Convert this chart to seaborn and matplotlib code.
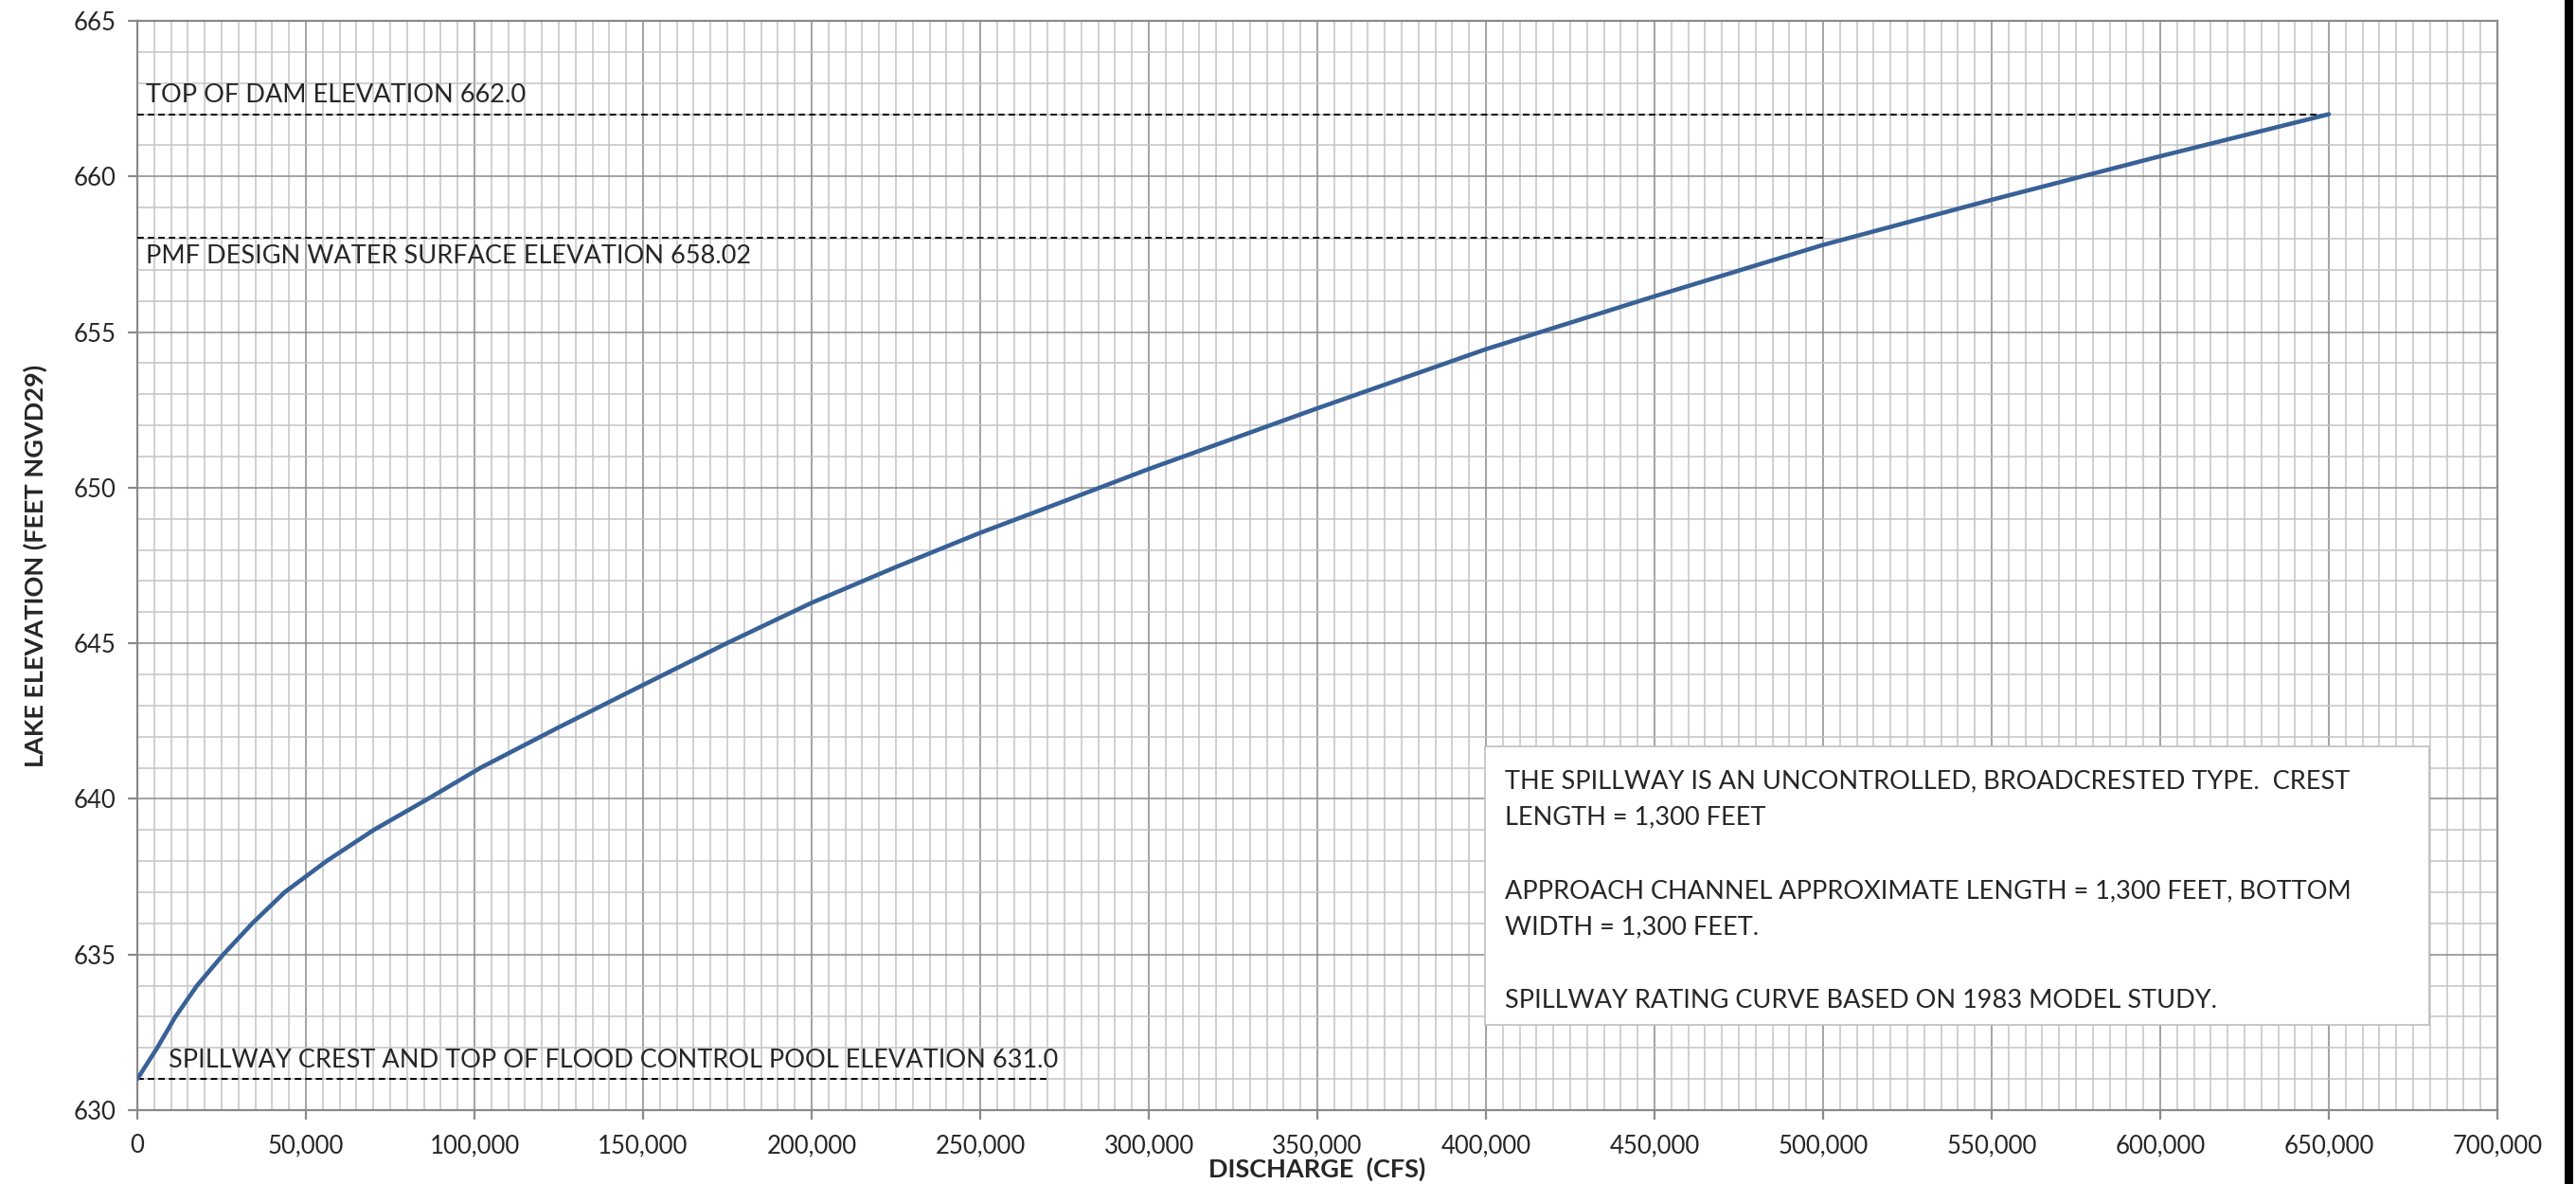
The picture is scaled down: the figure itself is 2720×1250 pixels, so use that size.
import matplotlib
matplotlib.use('Agg')
import matplotlib.pyplot as plt
import matplotlib.ticker as mticker
from matplotlib.patches import Rectangle
import seaborn as sns
import pandas as pd

# spillway rating curve
discharge_cfs = [0, 5900, 11300, 17700, 25500, 34100, 43700, 56100, 70100,
                 86200, 101800, 125000, 150000, 174800, 200000, 225000,
                 250000, 275000, 300000, 350000, 400000, 450000, 500000,
                 550000, 600000, 650000]
lake_elev = [631.0, 632.0, 633.0, 634.0, 635.0, 636.0, 637.0, 638.0, 639.0,
             640.0, 641.0, 642.3, 643.66, 645.0, 646.3, 647.45,
             648.55, 649.57, 650.6, 652.55, 654.45, 656.15, 657.8,
             659.25, 660.65, 662.0]

# reference elevations (label, elevation, dashed line end discharge)
ref_labels = ["TOP OF DAM ELEVATION 662.0",
              "PMF DESIGN WATER SURFACE ELEVATION 658.02",
              "SPILLWAY CREST AND TOP OF FLOOD CONTROL POOL ELEVATION 631.0"]
ref_elev = [662.0, 658.02, 631.0]
ref_line_end = [650000, 500000, 270000]
ref_label_x = [2500, 2500, 9300]
ref_label_above = [True, False, True]

note_text = ("THE SPILLWAY IS AN UNCONTROLLED, BROADCRESTED TYPE.  CREST\n"
             "LENGTH = 1,300 FEET\n\n"
             "APPROACH CHANNEL APPROXIMATE LENGTH = 1,300 FEET, BOTTOM\n"
             "WIDTH = 1,300 FEET.\n\n"
             "SPILLWAY RATING CURVE BASED ON 1983 MODEL STUDY.")

sns.set_style("white")
plt.rcParams['font.family'] = ['Lato', 'DejaVu Sans']
plt.rcParams['font.size'] = 19.5

fig = plt.figure(figsize=(27.2, 12.5), dpi=100)
ax = fig.add_axes([0.0533, 0.0624, 0.9162, 0.92])

df = pd.DataFrame({'discharge': discharge_cfs, 'elevation': lake_elev})
sns.lineplot(data=df, x='discharge', y='elevation', ax=ax, color='#386196',
             linewidth=3.3, sort=True, zorder=5)

ax.set_xlim(0, 700000)
ax.set_ylim(630, 665)
ax.xaxis.set_major_locator(mticker.MultipleLocator(50000))
ax.xaxis.set_minor_locator(mticker.MultipleLocator(5000))
ax.yaxis.set_major_locator(mticker.MultipleLocator(5))
ax.yaxis.set_minor_locator(mticker.MultipleLocator(1))
ax.xaxis.set_major_formatter(mticker.FuncFormatter(lambda v, p: f"{v:,.0f}"))

ax.grid(which='minor', color='#c4c4c4', linewidth=1.1, zorder=0)
ax.grid(which='major', color='#8a8a8a', linewidth=1.1, zorder=1)
ax.set_axisbelow(True)
for side, sp in ax.spines.items():
    sp.set_color('#8a8a8a')
    sp.set_linewidth(1.6)

ax.tick_params(which='major', direction='out', length=7, width=1.6,
               color='#8a8a8a', labelsize=18.5, bottom=True, left=True)
ax.tick_params(axis='y', pad=9)
ax.tick_params(axis='x', pad=11)
ax.tick_params(which='minor', length=0)

# reference elevation lines and their labels
for label, elev, x_end, lx, above in zip(ref_labels, ref_elev, ref_line_end,
                                         ref_label_x, ref_label_above):
    ax.plot([0, x_end], [elev, elev], color='black', linewidth=1.4,
            linestyle=(0, (3.5, 2.2)), zorder=4)
    ax.text(lx, elev + (0.22 if above else -0.2), label,
            va='bottom' if above else 'top', ha='left', fontsize=19.5,
            zorder=6)

# notes box
ax.add_patch(Rectangle((0.5712, 0.078), 0.4, 0.256, transform=ax.transAxes,
                       facecolor='white', edgecolor='#bfbfbf', linewidth=1.2,
                       zorder=7))
ax.text(0.5795, 0.313, note_text, transform=ax.transAxes, va='top',
        ha='left', fontsize=19.5, linespacing=1.68, zorder=8)

ax.set_xlabel('DISCHARGE  (CFS)', fontsize=19.5, fontweight='bold',
              labelpad=0)
ax.set_ylabel('LAKE ELEVATION (FEET NGVD29)', fontsize=19.5,
              fontweight='bold', labelpad=20)

# dark strip at the right edge of the original image
fig.patches.append(Rectangle((0.9956, 0), 0.0033, 1, transform=fig.transFigure,
                             facecolor='black', edgecolor='none'))

fig.savefig('out.png', dpi=100, facecolor='white')
